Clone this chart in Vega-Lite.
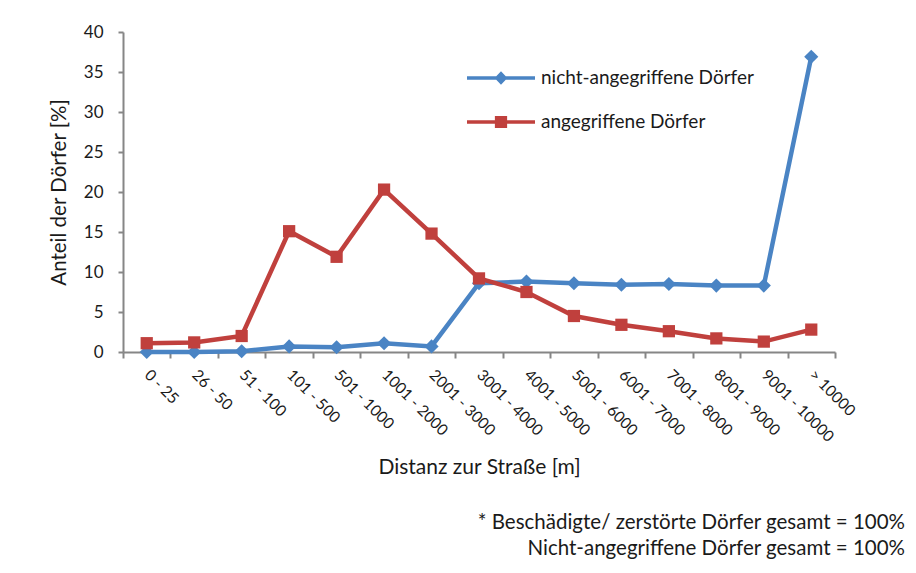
{
  "$schema": "https://vega.github.io/schema/vega-lite/v6.json",
  "autosize": {"type": "none"},
  "padding": {"left": 123, "top": 32, "right": 81, "bottom": 221},
  "width": 712,
  "height": 320,
  "background": "white",
  "config": {
    "view": {"stroke": null},
    "font": "Lato",
    "text": {"font": "Lato"}
  },
  "title": {
    "text": ["* Beschädigte/ zerstörte Dörfer gesamt = 100%", "Nicht-angegriffene Dörfer gesamt = 100%"],
    "orient": "bottom",
    "anchor": "end",
    "align": "right",
    "frame": "group",
    "dx": 70,
    "offset": 35,
    "font": "Lato",
    "fontSize": 20.5,
    "fontWeight": "normal",
    "color": "#1a1a1a",
    "lineHeight": 26
  },
  "data": {
    "values": [
      {"cat": "0 - 25", "series": "nicht-angegriffene Dörfer", "value": 0},
      {"cat": "26 - 50", "series": "nicht-angegriffene Dörfer", "value": 0},
      {"cat": "51 - 100", "series": "nicht-angegriffene Dörfer", "value": 0.1},
      {"cat": "101 - 500", "series": "nicht-angegriffene Dörfer", "value": 0.7},
      {"cat": "501 - 1000", "series": "nicht-angegriffene Dörfer", "value": 0.6},
      {"cat": "1001 - 2000", "series": "nicht-angegriffene Dörfer", "value": 1.1},
      {"cat": "2001 - 3000", "series": "nicht-angegriffene Dörfer", "value": 0.7},
      {"cat": "3001 - 4000", "series": "nicht-angegriffene Dörfer", "value": 8.6},
      {"cat": "4001 - 5000", "series": "nicht-angegriffene Dörfer", "value": 8.8},
      {"cat": "5001 - 6000", "series": "nicht-angegriffene Dörfer", "value": 8.6},
      {"cat": "6001 - 7000", "series": "nicht-angegriffene Dörfer", "value": 8.4},
      {"cat": "7001 - 8000", "series": "nicht-angegriffene Dörfer", "value": 8.5},
      {"cat": "8001 - 9000", "series": "nicht-angegriffene Dörfer", "value": 8.3},
      {"cat": "9001 - 10000", "series": "nicht-angegriffene Dörfer", "value": 8.3},
      {"cat": "> 10000", "series": "nicht-angegriffene Dörfer", "value": 36.9},
      {"cat": "0 - 25", "series": "angegriffene Dörfer", "value": 1.1},
      {"cat": "26 - 50", "series": "angegriffene Dörfer", "value": 1.2},
      {"cat": "51 - 100", "series": "angegriffene Dörfer", "value": 2.0},
      {"cat": "101 - 500", "series": "angegriffene Dörfer", "value": 15.1},
      {"cat": "501 - 1000", "series": "angegriffene Dörfer", "value": 11.9},
      {"cat": "1001 - 2000", "series": "angegriffene Dörfer", "value": 20.3},
      {"cat": "2001 - 3000", "series": "angegriffene Dörfer", "value": 14.8},
      {"cat": "3001 - 4000", "series": "angegriffene Dörfer", "value": 9.2},
      {"cat": "4001 - 5000", "series": "angegriffene Dörfer", "value": 7.5},
      {"cat": "5001 - 6000", "series": "angegriffene Dörfer", "value": 4.5},
      {"cat": "6001 - 7000", "series": "angegriffene Dörfer", "value": 3.4},
      {"cat": "7001 - 8000", "series": "angegriffene Dörfer", "value": 2.6},
      {"cat": "8001 - 9000", "series": "angegriffene Dörfer", "value": 1.7},
      {"cat": "9001 - 10000", "series": "angegriffene Dörfer", "value": 1.3},
      {"cat": "> 10000", "series": "angegriffene Dörfer", "value": 2.8}
    ]
  },
  "encoding": {
    "x": {
      "field": "cat",
      "type": "nominal",
      "sort": null,
      "scale": {"type": "band", "paddingInner": 0, "paddingOuter": 0},
      "axis": {
        "title": "Distanz zur Straße [m]",
        "titleFont": "Lato",
        "titleFontSize": 21,
        "titleFontWeight": "normal",
        "titleColor": "#1a1a1a",
        "titlePadding": 12,
        "labelAngle": 45,
        "labelAlign": "left",
        "labelBaseline": "middle",
        "labelPadding": 14,
        "labelFont": "Lato",
        "labelFontSize": 15.5,
        "labelColor": "#1a1a1a",
        "tickBand": "extent",
        "tickSize": 6,
        "tickColor": "#868686",
        "tickWidth": 2,
        "domainColor": "#868686",
        "domainWidth": 2,
        "grid": false
      }
    },
    "y": {
      "field": "value",
      "type": "quantitative",
      "scale": {"domain": [0, 40], "nice": false},
      "axis": {
        "title": "Anteil der Dörfer [%]",
        "titleFont": "Lato",
        "titleFontSize": 20.5,
        "titleFontWeight": "normal",
        "titleColor": "#1a1a1a",
        "titlePadding": 14,
        "values": [0, 5, 10, 15, 20, 25, 30, 35, 40],
        "labelFont": "Lato",
        "labelFontSize": 17,
        "labelColor": "#1a1a1a",
        "labelPadding": 15,
        "tickSize": 5,
        "tickColor": "#868686",
        "tickWidth": 2,
        "domainColor": "#868686",
        "domainWidth": 2,
        "grid": false
      }
    },
    "color": {
      "field": "series",
      "type": "nominal",
      "scale": {"domain": ["nicht-angegriffene Dörfer", "angegriffene Dörfer"], "range": ["#4A84C4", "#C0403D"]},
      "legend": {
        "title": null,
        "orient": "none",
        "legendX": 344,
        "legendY": 12,
        "symbolSize": 4624,
        "labelFont": "Lato",
        "labelFontSize": 19,
        "labelColor": "#1a1a1a",
        "labelLimit": 400,
        "labelOffset": 6,
        "rowPadding": -24,
        "encode": {
          "symbols": {
            "update": {
              "shape": {"signal": "datum.value === 'angegriffene Dörfer' ? 'M-1,-0.055 L-0.18,-0.055 L-0.18,-0.18 L0.18,-0.18 L0.18,-0.055 L1,-0.055 L1,0.055 L0.18,0.055 L0.18,0.18 L-0.18,0.18 L-0.18,0.055 L-1,0.055 Z' : 'M-1,-0.055 L-0.14,-0.055 L0,-0.2 L0.14,-0.055 L1,-0.055 L1,0.055 L0.14,0.055 L0,0.2 L-0.14,0.055 L-1,0.055 Z'"},
              "fill": {"signal": "datum.value === 'angegriffene Dörfer' ? '#C0403D' : '#4A84C4'"},
              "strokeWidth": {"value": 0}
            }
          }
        }
      }
    }
  },
  "layer": [
    {
      "mark": {"type": "line", "strokeWidth": 4.5},
      "encoding": {"detail": {"field": "series", "type": "nominal"}}
    },
    {
      "transform": [{"filter": "datum.series === 'nicht-angegriffene Dörfer'"}],
      "mark": {"type": "point", "filled": true, "opacity": 1, "strokeWidth": 0, "shape": "diamond", "size": 200}
    },
    {
      "transform": [{"filter": "datum.series === 'angegriffene Dörfer'"}],
      "mark": {"type": "point", "filled": true, "opacity": 1, "strokeWidth": 0, "shape": "square", "size": 150}
    }
  ]
}
